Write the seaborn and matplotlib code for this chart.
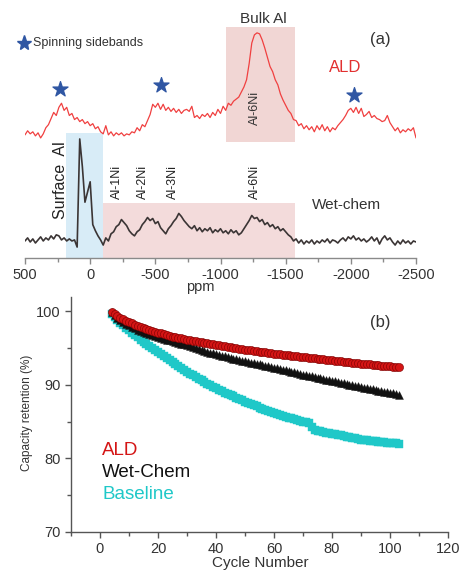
import numpy as np
import pandas as pd
import matplotlib
matplotlib.use("Agg")
import matplotlib.pyplot as plt
from matplotlib.patches import Rectangle
from matplotlib.ticker import MultipleLocator
import seaborn as sns

sns.set_style("white")
plt.rcParams["font.family"] = ["Liberation Sans", "DejaVu Sans"]
plt.rcParams["axes.unicode_minus"] = False

# ---------------- (a) 27Al NMR spectra ----------------
ppm = np.arange(500, -2501, -20)

ald_intensity = [
    0.00, 0.04, 0.01, 0.03, -0.01, 0.02, -0.03, 0.01, 0.07, 0.10,
    0.16, 0.22, 0.19, 0.27, 0.31, 0.24, 0.27, 0.19, 0.21, 0.15,
    0.17, 0.13, 0.15, 0.11, 0.13, 0.09, 0.11, 0.06, 0.08, 0.03,
    0.01, 0.09, 0.00, 0.03, -0.01, 0.02, 0.00, 0.02, -0.01, 0.01,
    0.00, 0.03, 0.02, 0.07, 0.04, 0.10, 0.08, 0.14, 0.20, 0.30,
    0.27, 0.31, 0.25, 0.30, 0.24, 0.27, 0.23, 0.26, 0.22, 0.25,
    0.21, 0.24, 0.25, 0.23, 0.28, 0.17, 0.19, 0.16, 0.20, 0.18,
    0.21, 0.17, 0.22, 0.19, 0.25, 0.21, 0.28, 0.24, 0.31, 0.29,
    0.33, 0.35, 0.37, 0.42, 0.47, 0.54, 0.70, 0.90, 0.98, 1.00,
    0.99, 0.93, 0.85, 0.76, 0.67, 0.62, 0.54, 0.49, 0.40, 0.34,
    0.29, 0.24, 0.21, 0.15, 0.14, 0.09, 0.11, 0.06, 0.09, 0.05,
    0.08, 0.03, 0.09, 0.05, 0.10, 0.04, 0.08, 0.03, 0.07, 0.05,
    0.09, 0.12, 0.15, 0.19, 0.24, 0.26, 0.22, 0.27, 0.21, 0.26,
    0.18, 0.20, 0.23, 0.17, 0.19, 0.16, 0.15, 0.13, 0.14, 0.19,
    0.12, 0.08, 0.04, 0.07, 0.02, 0.05, 0.03, 0.06, 0.04, 0.07,
    -0.03,
]

wet_intensity = [
    0.02, 0.05, 0.01, 0.04, 0.00, 0.03, 0.06, 0.02, 0.05, 0.03,
    0.07, 0.04, 0.08, 0.07, 0.03, 0.05, 0.02, 0.04, 0.02, 0.03,
    -0.04, 1.02, 0.75, 0.40, 0.50, 0.60, 0.18, 0.12, 0.07, 0.03,
    -0.02, 0.05, 0.02, 0.09, 0.11, 0.16, 0.18, 0.23, 0.20, 0.17,
    0.12, 0.09, 0.07, 0.11, 0.13, 0.18, 0.21, 0.25, 0.22, 0.24,
    0.19, 0.21, 0.15, 0.12, 0.09, 0.14, 0.17, 0.21, 0.24, 0.29,
    0.26, 0.22, 0.19, 0.16, 0.14, 0.17, 0.12, 0.15, 0.11, 0.14,
    0.12, 0.15, 0.10, 0.13, 0.11, 0.14, 0.10, 0.12, 0.09, 0.13,
    0.10, 0.12, 0.08, 0.10, 0.14, 0.18, 0.22, 0.27, 0.24, 0.25,
    0.21, 0.23, 0.18, 0.20, 0.16, 0.18, 0.14, 0.16, 0.12, 0.14,
    0.11, 0.08, 0.06, 0.02, 0.04, 0.00, 0.03, -0.01, 0.02, 0.00,
    0.03, -0.01, 0.02, 0.00, 0.03, 0.01, 0.04, 0.00, 0.03, 0.02,
    0.00, 0.03, 0.05, 0.02, 0.06, 0.04, 0.07, 0.03, 0.05, 0.02,
    0.04, 0.01, 0.03, 0.06, 0.02, 0.05, -0.01, 0.04, 0.07, 0.03,
    0.05, 0.01, -0.02, 0.02, -0.01, 0.03, 0.00, 0.02, -0.01, 0.02,
    0.01,
]

ald_offset = 1.06
sideband_ppm = [231, -541, -2024]
sideband_level = [1.51, 1.55, 1.45]
wet_peak_labels = ["Al-1Ni", "Al-2Ni", "Al-3Ni", "Al-6Ni"]
wet_peak_ppm = [-205, -406, -635, -1265]
ppm_ticks = [500, 0, -500, -1000, -1500, -2000, -2500]

# ---------------- (b) cycling ----------------
cycles = np.arange(4, 104)

ald_retention = [
    99.90, 99.60, 99.35, 99.10, 98.90, 98.70, 98.55,
    98.36, 98.18, 98.01, 97.85, 97.70, 97.56, 97.43, 97.31, 97.20, 97.10,
    96.99, 96.88, 96.78, 96.68, 96.58, 96.49, 96.40, 96.31, 96.23, 96.15,
    96.07, 95.99, 95.91, 95.84, 95.77, 95.70, 95.64, 95.57, 95.51, 95.45,
    95.38, 95.32, 95.25, 95.19, 95.12, 95.06, 94.99, 94.93, 94.86, 94.80,
    94.74, 94.69, 94.63, 94.58, 94.52, 94.47, 94.41, 94.36, 94.30, 94.25,
    94.20, 94.16, 94.11, 94.07, 94.02, 93.98, 93.93, 93.89, 93.84, 93.80,
    93.75, 93.71, 93.66, 93.62, 93.57, 93.53, 93.48, 93.44, 93.39, 93.35,
    93.30, 93.26, 93.21, 93.17, 93.12, 93.08, 93.03, 92.99, 92.94, 92.90,
    92.86, 92.82, 92.78, 92.74, 92.70, 92.66, 92.62, 92.58, 92.54, 92.50,
    92.46, 92.41, 92.36,
]

wet_retention = [
    99.90, 99.50, 99.15, 98.85, 98.58, 98.33, 98.10,
    97.90, 97.71, 97.53, 97.36, 97.20, 97.05, 96.91, 96.77, 96.63, 96.50,
    96.38, 96.26, 96.15, 96.04, 95.93, 95.82, 95.71, 95.61, 95.50, 95.40,
    95.27, 95.15, 95.02, 94.90, 94.77, 94.65, 94.52, 94.40, 94.27, 94.15,
    94.05, 93.96, 93.86, 93.77, 93.67, 93.58, 93.48, 93.39, 93.29, 93.20,
    93.11, 93.03, 92.94, 92.86, 92.77, 92.69, 92.60, 92.52, 92.43, 92.35,
    92.25, 92.16, 92.06, 91.97, 91.87, 91.78, 91.68, 91.59, 91.49, 91.40,
    91.31, 91.23, 91.14, 91.06, 90.97, 90.89, 90.80, 90.72, 90.63, 90.55,
    90.46, 90.38, 90.29, 90.21, 90.12, 90.04, 89.95, 89.87, 89.78, 89.70,
    89.62, 89.54, 89.46, 89.38, 89.30, 89.22, 89.14, 89.06, 88.98, 88.90,
    88.82, 88.74, 88.66,
]

baseline_retention = [
    99.60, 99.20, 98.82, 98.45, 98.09, 97.74, 97.40,
    97.08, 96.77, 96.47, 96.17, 95.88, 95.59, 95.31, 95.04, 94.77, 94.50,
    94.22, 93.94, 93.66, 93.39, 93.11, 92.84, 92.57, 92.29, 92.02, 91.75,
    91.52, 91.29, 91.06, 90.84, 90.61, 90.39, 90.17, 89.95, 89.72, 89.50,
    89.31, 89.13, 88.95, 88.77, 88.59, 88.42, 88.24, 88.06, 87.88, 87.70,
    87.53, 87.37, 87.21, 87.05, 86.89, 86.74, 86.58, 86.42, 86.26, 86.10,
    85.99, 85.88, 85.77, 85.66, 85.55, 85.44, 85.33, 85.22, 85.11, 85.00,
    84.90, 84.80, 84.25, 83.85, 83.75, 83.66, 83.58, 83.50, 83.42, 83.35,
    83.27, 83.19, 83.11, 83.03, 82.95, 82.87, 82.79, 82.71, 82.63, 82.55,
    82.50, 82.46, 82.41, 82.37, 82.32, 82.28, 82.23, 82.19, 82.14, 82.10,
    82.07, 82.03, 82.00,
]

series_names = ["ALD", "Wet-Chem", "Baseline"]
series_colors = ["#d41515", "#111111", "#1fc8c8"]

# ---------------- figure ----------------
W, H = 462, 571
fig = plt.figure(figsize=(W / 100, H / 100), dpi=100)

# panel (a)
ax1 = fig.add_axes([25 / W, 1 - 258 / H, 391 / W, 258 / H])
ax1.set_xlim(500, -2500)
ax1.set_ylim(-0.147, 2.382)

blue_box = "#d8ecf7"
pink_box = "#f3dbdb"
ax1.add_patch(Rectangle((185, -0.147), -285, 1.08 + 0.147, color=blue_box, lw=0, zorder=0))
ax1.add_patch(Rectangle((-100, -0.147), -1472, 0.39 + 0.147, color=pink_box, lw=0, zorder=0))
ax1.add_patch(Rectangle((-1040, 0.99), -532, 2.12 - 0.99, color="#f1d6d4", lw=0, zorder=0))

spec = pd.DataFrame({"ppm": ppm,
                     "ALD": np.array(ald_intensity) + ald_offset,
                     "Wet": wet_intensity})
sns.lineplot(data=spec, x="ppm", y="ALD", ax=ax1, color="#f04040", lw=0.9, zorder=3)
sns.lineplot(data=spec, x="ppm", y="Wet", ax=ax1, color="#3b3535", lw=1.2, zorder=3)

star_color = "#2f56a3"
sns.scatterplot(x=sideband_ppm, y=sideband_level, ax=ax1, marker="*", s=130,
                color=star_color, edgecolor=star_color, zorder=4)
ax1.plot([508], [1.96], marker="*", ms=11, color=star_color, ls="none",
         zorder=4, clip_on=False)
ax1.text(440, 1.96, "Spinning sidebands", fontsize=9, color="#333333",
         ha="left", va="center")

ax1.text(-1326, 2.20, "Bulk Al", fontsize=11, color="#333333", ha="center", va="center")
ax1.text(-2224, 1.99, "(a)", fontsize=12, color="#333333", ha="center", va="center")
ax1.text(-1955, 1.72, "ALD", fontsize=12, color="#e23030", ha="center", va="center")
ax1.text(-1265, 1.32, "Al-6Ni", fontsize=9, color="#333333", rotation=90,
         ha="center", va="center")
ax1.text(231, 0.62, "Surface  Al", fontsize=11.5, color="#222222", rotation=90,
         ha="center", va="center")
for lab, pos in zip(wet_peak_labels, wet_peak_ppm):
    ax1.text(pos, 0.60, lab, fontsize=9, color="#222222", rotation=90,
             ha="center", va="center")
ax1.text(-1970, 0.37, "Wet-chem", fontsize=11, color="#333333", ha="center", va="center")

for side in ["left", "right", "top"]:
    ax1.spines[side].set_visible(False)
ax1.spines["bottom"].set_color("#8a8a8a")
ax1.spines["bottom"].set_linewidth(1.0)
ax1.set_yticks([])
ax1.set_xticks(ppm_ticks)
ax1.set_xticklabels([str(t) for t in ppm_ticks])
ax1.xaxis.set_minor_locator(MultipleLocator(250))
ax1.tick_params(axis="x", which="both", direction="out", color="#8a8a8a",
                labelcolor="#333333", labelsize=10.5, bottom=True)
ax1.tick_params(axis="x", which="major", length=4, width=1)
ax1.tick_params(axis="x", which="minor", length=3, width=1)
ax1.set_xlabel("ppm", fontsize=10.5, color="#333333")
ax1.xaxis.set_label_coords(0.448, -0.085)
ax1.set_ylabel("")

# panel (b)
ax2 = fig.add_axes([71 / W, 1 - 531.7 / H, 377 / W, 235 / H])
ax2.set_xlim(-10, 120)
ax2.set_ylim(70, 102)

cyc = pd.DataFrame({"cycle": cycles, "ALD": ald_retention,
                    "Wet-Chem": wet_retention, "Baseline": baseline_retention})
sns.scatterplot(data=cyc, x="cycle", y="Baseline", ax=ax2, marker="s", s=30,
                color=series_colors[2], edgecolor=series_colors[2], lw=0.3, zorder=3)
sns.scatterplot(data=cyc, x="cycle", y="ALD", ax=ax2, marker="o", s=34,
                color=series_colors[0], edgecolor="#7a0000", lw=0.4, zorder=4)
sns.scatterplot(data=cyc, x="cycle", y="Wet-Chem", ax=ax2, marker="^", s=32,
                color=series_colors[1], edgecolor=series_colors[1], lw=0.3, zorder=3.5)

for name, col, yy in zip(series_names, series_colors, [81.1, 78.1, 75.0]):
    ax2.text(0.7, yy, name, fontsize=13.5, color=col, ha="left", va="center")
ax2.text(96.5, 98.5, "(b)", fontsize=12, color="#333333", ha="center", va="center")

for side in ["right", "top"]:
    ax2.spines[side].set_visible(False)
for side in ["left", "bottom"]:
    ax2.spines[side].set_color("#555555")
    ax2.spines[side].set_linewidth(1.0)
ax2.set_xticks(np.arange(0, 121, 20))
ax2.set_yticks([70, 80, 90, 100])
ax2.xaxis.set_minor_locator(MultipleLocator(10))
ax2.yaxis.set_minor_locator(MultipleLocator(5))
ax2.tick_params(which="both", direction="out", color="#555555",
                labelcolor="#333333", labelsize=10.5, left=True, bottom=True)
ax2.tick_params(which="major", length=4, width=1)
ax2.tick_params(which="minor", length=3, width=1)
ax2.set_xlabel("Cycle Number", fontsize=11, color="#333333")
ax2.xaxis.set_label_coords(0.501, -0.105)
ax2.set_ylabel("Capacity retention (%)", fontsize=8.5, color="#333333")
ax2.yaxis.set_label_coords(-0.10, 0.505)

fig.savefig("out.png", dpi=100)
